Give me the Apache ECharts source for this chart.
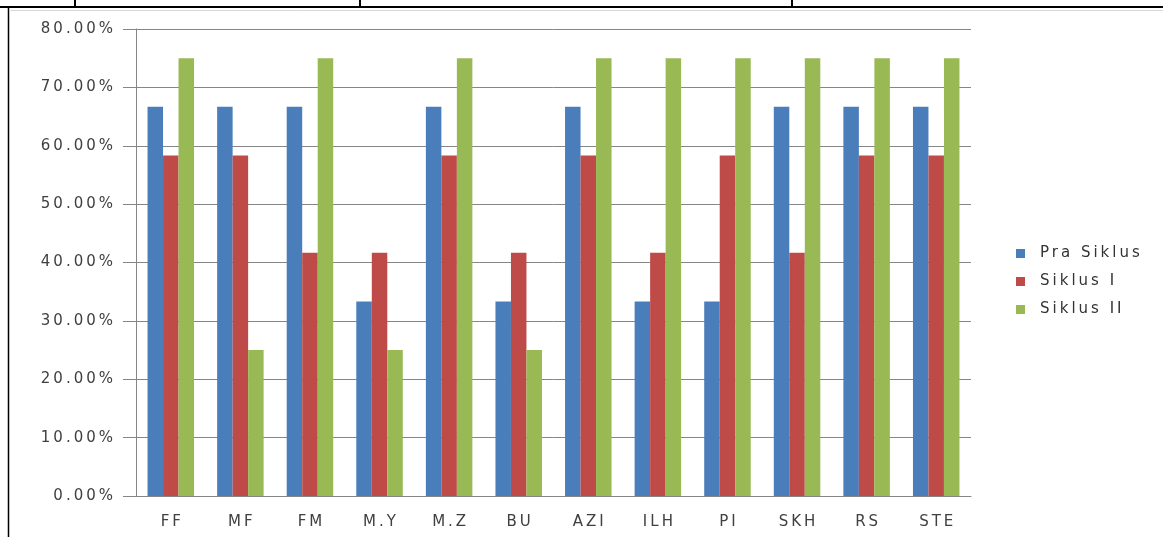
<!DOCTYPE html>
<html>
<head>
<meta charset="utf-8">
<style>
    html, body { margin: 0; padding: 0; background: #fff; }
    #chart { width: 1163px; height: 537px; }
</style>
<script src="https://cdn.jsdelivr.net/npm/echarts@6/dist/echarts.min.js"></script>
</head>
<body>
<div id="chart"></div>
<script>
    // data (percent)
    var categories = ['FF', 'MF', 'FM', 'M.Y', 'M.Z', 'BU', 'AZI', 'ILH', 'PI', 'SKH', 'RS', 'STE'];
    var praSiklus = [66.67, 66.67, 66.67, 33.33, 66.67, 33.33, 66.67, 33.33, 33.33, 66.67, 66.67, 66.67];
    var siklusI   = [58.33, 58.33, 41.67, 41.67, 58.33, 41.67, 58.33, 41.67, 58.33, 41.67, 58.33, 58.33];
    var siklusII  = [75, 25, 75, 25, 75, 25, 75, 75, 75, 75, 75, 75];
    var seriesNames = ['Pra Siklus', 'Siklus I', 'Siklus II'];
    var yTicks = [0, 10, 20, 30, 40, 50, 60, 70, 80];

    // the old excel text is drawn wide, give canvas text some letter spacing
    var origFillText = CanvasRenderingContext2D.prototype.fillText;
    CanvasRenderingContext2D.prototype.fillText = function () {
        if ('letterSpacing' in this) this.letterSpacing = '3px';
        return origFillText.apply(this, arguments);
    };

    var lineColor = '#868686';
    var textColor = '#404040';
    var font = 'DejaVu Sans';

    var chart = echarts.init(document.getElementById('chart'));
    chart.setOption({
        animation: false,
        color: ['#4A7EBB', '#BE4B48', '#98B954'],
        grid: { left: 136, right: 192, top: 29, bottom: 41 },
        legend: {
            orient: 'vertical',
            left: 1011,
            top: 241,
            itemWidth: 9,
            itemHeight: 9,
            itemGap: 13,
            icon: 'rect',
            data: seriesNames,
            textStyle: { color: '#333', fontFamily: font, fontSize: 15, padding: [0, 0, 0, 10] }
        },
        xAxis: {
            type: 'category',
            data: categories,
            axisLine: { lineStyle: { color: lineColor } },
            axisTick: { length: 8, lineStyle: { color: lineColor } },
            axisLabel: { margin: 19, color: textColor, fontFamily: font, fontSize: 15, padding: [0, 0, 0, 3] }
        },
        yAxis: {
            type: 'value',
            min: yTicks[0],
            max: yTicks[yTicks.length - 1],
            interval: 10,
            axisLine: { show: true, lineStyle: { color: lineColor } },
            axisTick: { show: true, inside: false, length: 13, lineStyle: { color: lineColor } },
            axisLabel: {
                margin: 20,
                color: textColor,
                fontFamily: font,
                fontSize: 15,
                formatter: function (v) { return v.toFixed(2) + '%'; }
            },
            splitLine: { lineStyle: { color: lineColor } }
        },
        series: [
            { name: seriesNames[0], type: 'bar', data: praSiklus, barWidth: 15.5, barGap: '0%' },
            { name: seriesNames[1], type: 'bar', data: siklusI, barWidth: 15.5, barGap: '0%' },
            { name: seriesNames[2], type: 'bar', data: siklusII, barWidth: 15.5, barGap: '0%' }
        ],
        graphic: [
            // table borders around the pasted chart
            { type: 'line', shape: { x1: 0, y1: 7, x2: 1163, y2: 7 }, style: { stroke: '#000', lineWidth: 2 } },
            { type: 'line', shape: { x1: 75, y1: 0, x2: 75, y2: 7 }, style: { stroke: '#000', lineWidth: 2 } },
            { type: 'line', shape: { x1: 360, y1: 0, x2: 360, y2: 7 }, style: { stroke: '#000', lineWidth: 2 } },
            { type: 'line', shape: { x1: 792, y1: 0, x2: 792, y2: 7 }, style: { stroke: '#000', lineWidth: 2 } },
            { type: 'line', shape: { x1: 8.5, y1: 8, x2: 8.5, y2: 537 }, style: { stroke: '#000', lineWidth: 1.5 } },
            { type: 'line', shape: { x1: 9, y1: 10.5, x2: 1163, y2: 10.5 }, style: { stroke: '#d9d9d9', lineWidth: 1 } }
        ]
    });
</script>
</body>
</html>
